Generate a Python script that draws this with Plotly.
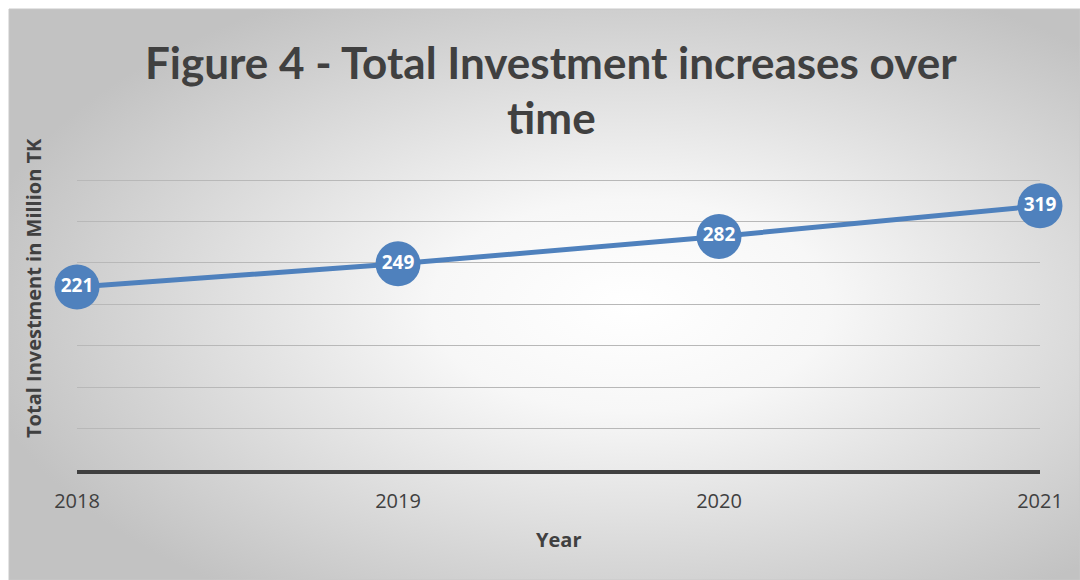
import base64
import plotly.graph_objects as go

years = [2018, 2019, 2020, 2021]
investment = [221, 249, 282, 319]
tick_labels = ["2018", "2019", "2020", "2021"]

title_line1 = "Figure 4 - Total Investment increases over"
title_line2 = "time"
x_title = "Year"
y_title = "Total Investment in Million TK"

W, H = 1080, 580
L, R, T, B = 77, 40, 176, 110
pw, ph = W - L - R, H - T - B

svg = f'''<svg xmlns="http://www.w3.org/2000/svg" width="1071" height="571" viewBox="0 0 1071 571" preserveAspectRatio="none">
<defs><radialGradient id="g" cx="0.58" cy="0.52" r="0.62" gradientUnits="objectBoundingBox">
<stop offset="0" stop-color="#ffffff"/><stop offset="0.3" stop-color="#f7f7f7"/><stop offset="1" stop-color="#c2c2c2"/></radialGradient></defs>
<rect x="0" y="0" width="1071" height="571" fill="url(#g)"/></svg>'''
src = "data:image/svg+xml;base64," + base64.b64encode(svg.encode()).decode()

fig = go.Figure()
fig.add_trace(go.Scatter(
    x=years, y=investment, mode="lines+markers+text",
    text=[str(v) for v in investment], textposition="middle center",
    textfont=dict(family="Open Sans, sans-serif", size=19, color="white", weight="bold"),
    line=dict(color="#4F81BD", width=5),
    marker=dict(size=45, color="#4F81BD"),
    cliponaxis=False, hoverinfo="skip", showlegend=False,
))

px2x = lambda px: (px - L) / pw
px2y = lambda py: (H - B - py) / ph

title_font = dict(family="Lato, sans-serif", size=44, color="#404040", weight="bold")
axis_font = dict(family="Open Sans, sans-serif", size=20, color="#404040", weight="bold")

fig.update_layout(
    width=W, height=H,
    margin=dict(l=L, r=R, t=T, b=B),
    paper_bgcolor="white", plot_bgcolor="rgba(0,0,0,0)",
    images=[dict(source=src, xref="paper", yref="paper", x=px2x(9), y=px2y(9),
                 sizex=1071 / pw, sizey=571 / ph, xanchor="left", yanchor="top",
                 sizing="stretch", layer="below")],
    shapes=[dict(type="rect", xref="paper", yref="paper", x0=px2x(9), x1=px2x(1080),
                 y0=px2y(580), y1=px2y(9), line=dict(color="#c8c8c8", width=1), layer="below")],
    xaxis=dict(range=[2018, 2021], tickvals=years, ticktext=tick_labels, showgrid=False,
               showline=True, linecolor="#404040", linewidth=4, ticks="", zeroline=False,
               ticklabelstandoff=10,
               tickfont=dict(family="Open Sans, sans-serif", size=20, color="#404040")),
    yaxis=dict(range=[0, 355], tickvals=[50, 100, 150, 200, 250, 300, 350], showgrid=True,
               gridcolor="#b8b8b8", gridwidth=1,
               showticklabels=False, zeroline=False, ticks=""),
    annotations=[
        dict(text=title_line1, xref="paper", yref="paper", x=px2x(551), y=px2y(62),
             showarrow=False, xanchor="center", yanchor="middle", font=title_font),
        dict(text=title_line2, xref="paper", yref="paper", x=px2x(551), y=px2y(117),
             showarrow=False, xanchor="center", yanchor="middle", font=title_font),
        dict(text=x_title, xref="paper", yref="paper", x=px2x(558), y=px2y(539),
             showarrow=False, xanchor="center", yanchor="middle", font=axis_font),
        dict(text=y_title, xref="paper", yref="paper", x=px2x(33), y=px2y(288),
             showarrow=False, textangle=-90, xanchor="center", yanchor="middle", font=axis_font),
    ],
)

fig.write_html("out.html")
